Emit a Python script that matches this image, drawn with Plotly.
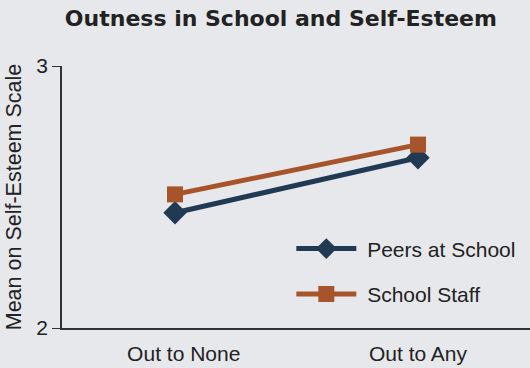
import plotly.graph_objects as go

categories = ["Out to None", "Out to Any"]
peers = [2.44, 2.65]
staff = [2.51, 2.70]
series_names = ["Peers at School", "School Staff"]
y_ticks = [2, 3]

navy = "#213a54"
orange = "#a8542a"
bg = "#e7e8ec"
nb = "\u00a0"

fig = go.Figure()
fig.add_trace(go.Scatter(x=categories, y=peers, name=nb + series_names[0], mode="lines+markers",
                         line=dict(color=navy, width=5),
                         marker=dict(symbol="diamond", size=18, color=navy),
                         legendgroup="a"))
fig.add_trace(go.Scatter(x=categories, y=staff, name=nb + series_names[1], mode="lines+markers",
                         line=dict(color=orange, width=5),
                         marker=dict(symbol="square", size=16, color=orange),
                         legendgroup="b"))

fig.update_layout(
    width=530, height=368,
    paper_bgcolor=bg, plot_bgcolor=bg,
    margin=dict(l=62, r=0, t=66, b=40, autoexpand=False),
    title=dict(text="<b>Outness in School and Self-Esteem</b>", x=0.53, xanchor="center",
               y=0.95, yanchor="middle",
               font=dict(family="DejaVu Sans", size=22, color="#222222")),
    font=dict(family="Liberation Sans, Arial", size=21, color="#222222"),
    showlegend=True,
    legend=dict(x=0.49, y=0.38, xanchor="left", yanchor="top", bgcolor="rgba(0,0,0,0)",
                itemwidth=60, tracegroupgap=15, font=dict(size=21, color="#222222")),
    xaxis=dict(range=[-0.465, 1.461], showline=True, linecolor="#333333", linewidth=1.5,
               tickvals=categories, ticktext=[nb * 3 + categories[0], categories[1]],
               ticks="", showgrid=False, zeroline=False, tickfont=dict(size=21),
               ticklabelstandoff=6),
    yaxis=dict(range=[2, 3], tickvals=y_ticks, showline=True, linecolor="#333333", linewidth=1.5,
               ticks="outside", ticklen=8, tickcolor="#333333", showgrid=False, zeroline=False,
               title=dict(text="Mean on Self-Esteem Scale", font=dict(size=21.5), standoff=9),
               tickfont=dict(size=21)),
)

fig.write_html("out.html", config={"displayModeBar": False},
               post_script="document.body.style.margin='0';document.body.style.padding='0';document.documentElement.style.overflow='hidden';")
